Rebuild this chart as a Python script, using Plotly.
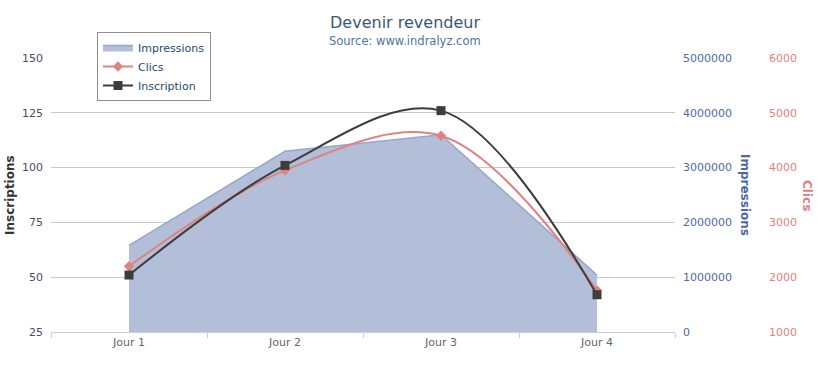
import plotly.graph_objects as go

categories = ["Jour 1", "Jour 2", "Jour 3", "Jour 4"]
impressions = [1580000, 3300000, 3600000, 1040000]
clics = [2200, 3950, 4580, 1760]
inscriptions = [51, 101, 126, 42]

W_PX, H_PX = 817, 386
L, R, T, B = 51, 20, 58, 54
PW = W_PX - L - R
PH = H_PX - T - B
PLOT_RIGHT = 675


def px2x(px):
    return (px - L) / PW


def px2y(py):
    return 1 - (py - T) / PH


FONT = "DejaVu Sans"

fig = go.Figure()
fig.add_trace(go.Scatter(
    x=categories, y=impressions, name="Impressions", mode="lines",
    line=dict(color="rgb(150,166,204)", width=1.5),
    fill="tozeroy", fillcolor="rgb(179,191,216)", yaxis="y",
))
fig.add_trace(go.Scatter(
    x=categories, y=clics, name="Clics", mode="lines+markers",
    line=dict(color="#e08380", width=2, shape="spline", smoothing=1.0),
    marker=dict(symbol="diamond", size=8, color="#e08380"), yaxis="y2",
))
fig.add_trace(go.Scatter(
    x=categories, y=inscriptions, name="Inscription", mode="lines+markers",
    line=dict(color="#3d3d3d", width=2, shape="spline", smoothing=1.0),
    marker=dict(symbol="square", size=9, color="#3d3d3d"), yaxis="y3",
))

fig.update_layout(
    width=W_PX, height=H_PX,
    margin=dict(l=L, r=R, t=T, b=B, pad=0),
    paper_bgcolor="white", plot_bgcolor="white",
    font=dict(family=FONT, size=11, color="#666"),
    showlegend=True,
    legend=dict(
        x=px2x(97), y=px2y(32), xanchor="left", yanchor="top",
        bordercolor="#909090", borderwidth=1, bgcolor="white",
        font=dict(family=FONT, size=11, color="#274b6d"),
        itemwidth=30, tracegroupgap=0,
    ),
    xaxis=dict(
        domain=[0, (PLOT_RIGHT - L) / PW],
        type="category", range=[-0.5, 3.5],
        showline=True, linecolor="#C0D0E0", linewidth=1,
        ticks="outside", tickson="boundaries", ticklen=5, tickcolor="#C0D0E0",
        showgrid=False, zeroline=False,
        tickfont=dict(family=FONT, size=11, color="#666"),
    ),
    yaxis=dict(
        range=[0, 5000000], dtick=1000000, tick0=0,
        side="right", anchor="x",
        showgrid=True, gridcolor="#C8C8C8", gridwidth=1,
        zeroline=False, showline=False, ticks="",
        tickformat="d", ticklabelstandoff=7,
        tickfont=dict(family=FONT, size=11, color="#4d6aa8"),
    ),
    yaxis2=dict(
        range=[1000, 6000], dtick=1000, tick0=1000,
        side="right", overlaying="y", anchor="free", position=px2x(766),
        showgrid=False, zeroline=False, showline=False, ticks="",
        tickformat="d", ticklabelstandoff=2,
        tickfont=dict(family=FONT, size=11, color="#e0807e"),
    ),
    yaxis3=dict(
        range=[25, 150], dtick=25, tick0=25,
        side="left", overlaying="y", anchor="x",
        showgrid=False, zeroline=False, showline=False, ticks="",
        ticklabelstandoff=7,
        tickfont=dict(family=FONT, size=11, color="#4a4c62"),
    ),
    title=dict(
        text="Devenir revendeur", x=px2x(405), xref="paper", xanchor="center",
        y=1 - 22 / H_PX, yref="container", yanchor="middle",
        font=dict(family=FONT, size=16, color="#3E576F"),
    ),
)

annotations = [
    dict(text="Source: www.indralyz.com", x=px2x(405), y=px2y(41),
         font=dict(family=FONT, size=11.5, color="#4d759e")),
    dict(text="<b>Inscriptions</b>", x=px2x(10), y=px2y(195), textangle=-90,
         font=dict(family=FONT, size=12, color="#333333")),
    dict(text="<b>Impressions</b>", x=px2x(745), y=px2y(195), textangle=90,
         font=dict(family=FONT, size=12, color="#4a67a8")),
    dict(text="<b>Clics</b>", x=px2x(807), y=px2y(195), textangle=90,
         font=dict(family=FONT, size=12, color="#e08080")),
]
for a in annotations:
    a.update(xref="paper", yref="paper", xanchor="center", yanchor="middle",
             showarrow=False)
fig.update_layout(annotations=annotations)

fig.write_html(
    "out.html",
    config={"displayModeBar": False},
    post_script="document.body.style.margin='0';document.body.style.padding='0';",
)
